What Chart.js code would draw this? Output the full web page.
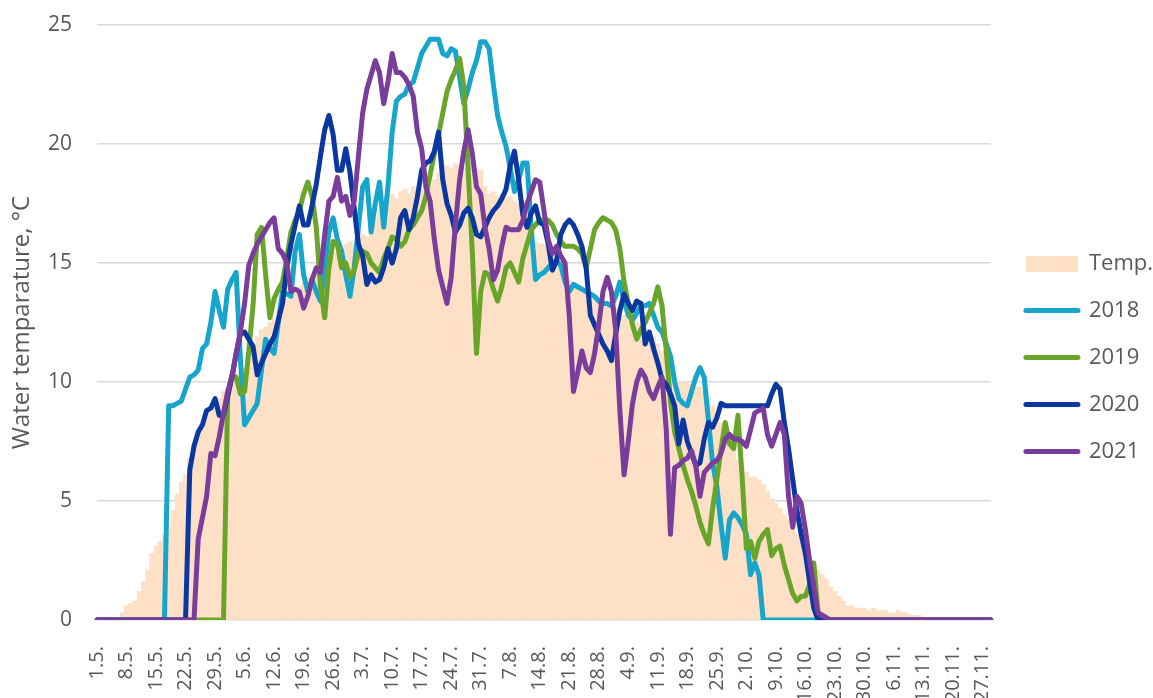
<!DOCTYPE html>
<html>
<head>
<meta charset="utf-8">
<script src="https://cdn.jsdelivr.net/npm/chart.js@4.4.1/dist/chart.umd.min.js"></script>
<style>
  html, body { margin: 0; background: #fff; }
  #wrap { width: 1153px; height: 698px; }
</style>
</head>
<body>
<div id="wrap"><canvas id="chart"></canvas></div>
<script>
// daily values, 1.5. -> 29.11., one row per week
const temp = [
  0, 0, 0, 0, 0, 0, 0.3,
  0.6, 0.7, 0.8, 1.2, 1.6, 2.1, 2.8,
  3.1, 3.3, 3.6, 3.9, 4.6, 5.3, 5.8,
  6.1, 6.8, 7.2, 7.8, 8.2, 8.5, 8.7,
  8.9, 9.3, 9.6, 9.8, 10.0, 10.2, 10.4,
  10.6, 11.0, 11.5, 11.9, 12.2, 12.3, 12.5,
  12.7, 13.0, 13.3, 13.5, 13.7, 13.8, 14.0,
  14.2, 14.4, 14.5, 14.7, 14.8, 15.0, 15.2,
  15.4, 15.5, 15.6, 15.8, 15.9, 15.8, 16.0,
  16.2, 16.1, 16.4, 16.8, 17.2, 17.5, 17.8,
  17.9, 17.7, 18.0, 18.1, 17.9, 18.2, 18.0,
  18.1, 18.3, 18.2, 18.5, 18.8, 19.0, 19.1,
  19.0, 19.2, 19.1, 19.0, 19.2, 19.1, 18.9,
  18.9, 18.2, 17.9, 18.0, 17.8, 17.9, 17.7,
  17.8, 17.6, 17.5, 17.6, 17.2, 16.5, 15.9,
  15.8, 15.8, 15.6, 15.5, 15.3, 15.0, 14.7,
  14.3, 14.1, 14.0, 13.9, 13.7, 13.6, 13.5,
  13.4, 13.3, 13.3, 13.2, 13.1, 13.0, 12.8,
  12.7, 12.6, 12.5, 12.4, 12.3, 12.1, 11.9,
  11.6, 11.3, 11.0, 10.6, 10.2, 10.0, 10.0,
  10.0, 9.9, 9.8, 9.8, 9.6, 9.4, 9.0,
  8.7, 8.3, 7.9, 7.5, 7.1, 6.7, 6.4,
  6.2, 6.0, 6.0, 5.9, 5.7, 5.4, 5.1,
  4.9, 4.7, 4.4, 4.2, 3.9, 3.6, 3.4,
  3.0, 2.6, 2.4, 2.1, 1.9, 1.7, 1.4,
  1.2, 1.0, 0.8, 0.6, 0.6, 0.5, 0.5,
  0.5, 0.4, 0.5, 0.4, 0.4, 0.4, 0.3,
  0.3, 0.4, 0.3, 0.3, 0.2, 0.2, 0.2,
  0.1, 0.1, 0, 0, 0, 0, 0,
  0, 0, 0, 0, 0, 0, 0,
  0, 0, 0
];

const y2018 = [
  0, 0, 0, 0, 0, 0, 0,
  0, 0, 0, 0, 0, 0, 0,
  0, 0, 0, 9.0, 9.0, 9.1, 9.2,
  9.7, 10.2, 10.3, 10.5, 11.4, 11.6, 12.5,
  13.8, 13.0, 12.3, 13.9, 14.3, 14.6, 11.0,
  8.2, 8.5, 8.8, 9.1, 10.5, 11.8, 11.4,
  11.2, 12.5, 13.8, 13.7, 13.6, 15.5, 16.2,
  14.5, 13.8, 14.3, 13.8, 13.4, 14.8, 16.3,
  16.9, 16.0, 15.5, 14.5, 13.6, 14.8, 16.5,
  18.2, 18.5, 16.3, 17.5, 18.4, 16.5, 18.2,
  20.5, 21.8, 22.0, 22.1, 22.5, 22.6, 23.2,
  23.8, 24.1, 24.4, 24.4, 24.4, 23.8, 23.7,
  24.0, 23.9, 22.8, 21.7, 22.3, 23.0, 23.5,
  24.3, 24.3, 24.0, 22.5, 21.2, 20.5, 19.9,
  19.0, 18.0, 18.5, 19.2, 19.2, 16.4, 14.3,
  14.5, 14.6, 14.8, 15.0, 15.1, 14.9, 14.2,
  13.8, 14.1, 14.0, 13.9, 13.8, 13.7, 13.6,
  13.4, 13.3, 13.3, 13.2, 13.6, 14.2, 13.4,
  12.8, 12.6, 12.9, 13.2, 13.2, 13.3, 12.8,
  12.3, 12.1, 11.6, 11.1, 10.0, 9.3, 9.1,
  9.0, 9.6, 10.2, 10.6, 10.2, 8.4, 6.6,
  5.6, 4.0, 2.6, 4.2, 4.5, 4.3, 4.0,
  3.6, 1.9, 2.4, 1.9, 0, 0, 0,
  0, 0, 0, 0, 0, 0, 0,
  0, 0, 0, 0, 0, 0, 0,
  0, 0, 0, 0, 0, 0, 0,
  0, 0, 0, 0, 0, 0, 0,
  0, 0, 0, 0, 0, 0, 0,
  0, 0, 0, 0, 0, 0, 0,
  0, 0, 0, 0, 0, 0, 0,
  0, 0, 0
];

const y2019 = [
  0, 0, 0, 0, 0, 0, 0,
  0, 0, 0, 0, 0, 0, 0,
  0, 0, 0, 0, 0, 0, 0,
  0, 0, 0, 0, 0, 0, 0,
  0, 0, 0, 9.5, 10.3, 10.2, 9.5,
  9.6, 11.3, 13.2, 16.2, 16.5, 14.5, 12.7,
  13.5, 13.9, 14.2, 15.2, 16.3, 16.8, 17.2,
  17.9, 18.4, 17.8, 16.5, 14.0, 12.7, 14.8,
  15.9, 15.8, 14.8, 15.0, 14.4, 14.7, 15.4,
  15.5, 15.4, 15.0, 14.8, 14.6, 15.2, 15.6,
  16.1, 16.0, 15.7, 15.9, 16.4, 16.6, 16.9,
  17.2, 17.8, 18.7, 19.6, 20.4, 21.3, 22.2,
  22.7, 23.1, 23.6, 22.4, 19.0, 15.5, 11.2,
  13.8, 14.6, 14.5, 13.9, 13.4, 14.0, 14.8,
  15.0, 14.6, 14.2, 15.2, 15.8, 16.4, 16.6,
  16.8, 16.8, 16.8, 16.6, 16.2, 15.9, 15.7,
  15.7, 15.7, 15.6, 15.4, 14.8, 15.6, 16.4,
  16.7, 16.9, 16.8, 16.7, 16.4, 15.6, 14.2,
  13.3, 12.4, 11.8, 12.2, 12.5, 12.9, 13.3,
  14.0, 13.2, 11.3, 9.2, 7.9, 7.2, 6.5,
  5.9, 5.4, 4.8, 4.1, 3.6, 3.2, 4.7,
  5.9, 7.2, 8.3, 7.4, 7.2, 8.6, 6.0,
  3.0, 3.3, 2.6, 3.3, 3.6, 3.8, 2.7,
  3.0, 3.1, 2.3, 1.7, 1.1, 0.8, 1.0,
  1.0, 1.5, 2.4, 0.3, 0, 0, 0,
  0, 0, 0, 0, 0, 0, 0,
  0, 0, 0, 0, 0, 0, 0,
  0, 0, 0, 0, 0, 0, 0,
  0, 0, 0, 0, 0, 0, 0,
  0, 0, 0, 0, 0, 0, 0,
  0, 0, 0
];

const y2020 = [
  0, 0, 0, 0, 0, 0, 0,
  0, 0, 0, 0, 0, 0, 0,
  0, 0, 0, 0, 0, 0, 0,
  0, 6.3, 7.3, 7.9, 8.2, 8.8, 8.9,
  9.3, 8.6, 8.6, 9.4, 10.2, 11.2, 12.0,
  12.1, 11.8, 11.5, 10.3, 10.8, 11.2, 11.6,
  11.9, 12.6, 13.3, 14.8, 15.8, 16.6, 17.4,
  16.6, 16.6, 17.4, 18.3, 19.5, 20.6, 21.2,
  20.4, 18.9, 18.9, 19.8, 18.8, 17.3, 15.8,
  15.3, 14.1, 14.5, 14.2, 14.3, 14.8, 15.6,
  15.0, 15.6, 16.9, 17.2, 16.4, 16.9, 17.8,
  18.9, 19.2, 19.3, 19.7, 20.5, 18.5, 17.5,
  17.0, 16.3, 16.6, 17.1, 17.3, 16.9, 16.2,
  16.1, 16.5, 16.9, 17.2, 17.4, 17.7, 18.1,
  19.1, 19.7, 18.5, 17.0, 16.5, 17.1, 17.4,
  16.7, 16.6, 15.8, 14.7, 15.1, 16.2, 16.6,
  16.8, 16.6, 16.2, 15.7, 14.8, 12.8, 12.4,
  12.0, 11.6, 11.3, 10.9, 12.0, 13.0, 13.7,
  13.3, 13.0, 13.4, 13.3, 11.6, 12.1, 11.4,
  10.8, 10.1, 9.9, 9.5, 9.0, 7.4, 8.4,
  7.5, 7.0, 6.5, 6.6, 7.6, 8.3, 8.1,
  8.5, 9.1, 9.0, 9.0, 9.0, 9.0, 9.0,
  9.0, 9.0, 9.0, 9.0, 9.0, 9.0, 9.5,
  9.9, 9.7, 8.3, 7.2, 5.9, 4.6, 3.6,
  2.8, 1.6, 0.5, 0, 0, 0, 0,
  0, 0, 0, 0, 0, 0, 0,
  0, 0, 0, 0, 0, 0, 0,
  0, 0, 0, 0, 0, 0, 0,
  0, 0, 0, 0, 0, 0, 0,
  0, 0, 0, 0, 0, 0, 0,
  0, 0, 0
];

const y2021 = [
  0, 0, 0, 0, 0, 0, 0,
  0, 0, 0, 0, 0, 0, 0,
  0, 0, 0, 0, 0, 0, 0,
  0, 0, 0, 3.4, 4.3, 5.2, 7.0,
  6.9, 7.7, 8.7, 9.6, 10.2, 11.2, 12.1,
  13.3, 14.9, 15.4, 15.8, 16.1, 16.4, 16.7,
  16.9, 15.6, 15.4, 15.0, 13.8, 13.9, 13.8,
  13.1, 13.6, 14.3, 14.8, 14.6, 16.2, 17.6,
  17.8, 18.6, 17.6, 17.8, 17.0, 17.6, 19.5,
  21.3, 22.3, 22.9, 23.5, 23.0, 21.7, 22.6,
  23.8, 23.0, 23.0, 22.8, 22.5, 22.0, 20.5,
  19.8, 18.2, 17.6, 16.0, 14.7, 14.0, 13.3,
  14.4, 16.6, 18.5, 19.7, 20.6, 19.6, 18.2,
  17.9, 16.5, 15.6, 14.3, 14.7, 15.7, 16.5,
  16.4, 16.4, 16.4, 16.8, 17.5, 18.0, 18.5,
  18.4, 17.2, 16.0, 15.4, 15.7, 15.3, 15.0,
  12.8, 9.6, 10.4, 11.3, 10.6, 10.4, 11.2,
  12.4, 13.8, 14.4, 13.8, 12.2, 8.8, 6.1,
  7.5, 9.1, 10.0, 10.5, 10.2, 9.6, 9.3,
  9.8, 10.2, 8.0, 3.6, 6.4, 6.5, 6.7,
  6.8, 7.1, 6.5, 5.2, 6.2, 6.4, 6.6,
  6.7, 7.0, 7.6, 7.8, 7.6, 7.6, 7.5,
  7.3, 8.0, 8.7, 8.8, 8.9, 7.8, 7.3,
  7.8, 8.3, 7.8, 5.2, 3.9, 5.2, 4.9,
  3.8, 2.5, 1.4, 0.3, 0.2, 0.1, 0,
  0, 0, 0, 0, 0, 0, 0,
  0, 0, 0, 0, 0, 0, 0,
  0, 0, 0, 0, 0, 0, 0,
  0, 0, 0, 0, 0, 0, 0,
  0, 0, 0, 0, 0, 0, 0,
  0, 0, 0
];

const yTicks = [0, 5, 10, 15, 20, 25];

// category labels d.m. starting 1.5.
const days = [];
for (let i = 0; i < temp.length; i++) {
  const d = new Date(2021, 4, 1 + i);
  days.push(d.getDate() + '.' + (d.getMonth() + 1) + '.');
}

const textColor = '#595959';
Chart.defaults.font.family = 'Open Sans';
Chart.defaults.color = textColor;

// legend swatch for the Temp. area
const swatch = document.createElement('canvas');
swatch.width = 52;
swatch.height = 16;
const sctx = swatch.getContext('2d');
sctx.fillStyle = '#fde0c5';
sctx.fillRect(0, 0, 52, 16);

function line(label, data, color, order) {
  return {
    type: 'line',
    label: label,
    data: data,
    borderColor: color,
    backgroundColor: color,
    borderWidth: 5,
    pointRadius: 0,
    tension: 0,
    borderJoinStyle: 'round',
    borderCapStyle: 'round',
    fill: false,
    order: order
  };
}

// nudge the legend a bit, like the original
const legendShift = {
  id: 'legendShift',
  afterLayout(chart) {
    chart.legend.left += 10;
    chart.legend.top -= 4;
    chart.legend.bottom -= 4;
  }
};

new Chart(document.getElementById('chart'), {
  data: {
    labels: days,
    datasets: [
      {
        type: 'bar',
        label: 'Temp.',
        data: temp,
        backgroundColor: '#fde0c5',
        borderWidth: 0,
        barPercentage: 1,
        categoryPercentage: 1,
        order: 5
      },
      line('2018', y2018, '#17a5cb', 4),
      line('2019', y2019, '#6aa52b', 3),
      line('2020', y2020, '#0b37a0', 2),
      line('2021', y2021, '#7b3d9c', 1)
    ]
  },
  plugins: [legendShift],
  options: {
    responsive: true,
    maintainAspectRatio: false,
    animation: false,
    layout: { padding: { top: 25, left: 0, right: 0, bottom: 0 } },
    plugins: {
      tooltip: { enabled: false },
      legend: {
        position: 'right',
        labels: {
          usePointStyle: true,
          pointStyleWidth: 52,
          padding: 25,
          color: textColor,
          font: { size: 22 },
          generateLabels: (chart) => chart.data.datasets.map((ds, i) => ({
            text: ds.label,
            fillStyle: ds.backgroundColor,
            strokeStyle: ds.borderColor,
            lineWidth: ds.type === 'bar' ? 0 : 5,
            lineCap: 'round',
            pointStyle: ds.type === 'bar' ? swatch : 'line',
            fontColor: textColor,
            hidden: false,
            datasetIndex: i
          }))
        }
      }
    },
    scales: {
      x: {
        offset: false,
        grid: { display: false },
        border: { display: false },
        afterFit: (scale) => { scale.height = 78; },
        ticks: {
          autoSkip: false,
          minRotation: 90,
          maxRotation: 90,
          padding: 18,
          font: { size: 20 },
          callback: (v, i) => (i % 7 === 0 ? days[i] : '')
        }
      },
      y: {
        min: 0,
        max: 25,
        afterBuildTicks: (axis) => { axis.ticks = yTicks.map(v => ({ value: v })); },
        afterFit: (scale) => {
          scale.width = 97;
          scale.paddingTop = 0;
          scale.paddingBottom = 0;
        },
        grid: { color: '#d9d9d9', lineWidth: 1.5, drawTicks: false },
        border: { display: false },
        ticks: { padding: 25, font: { size: 21 } },
        title: {
          display: true,
          text: 'Water temparature, °C',
          font: { size: 24 },
          padding: { top: 8, bottom: 10 }
        }
      }
    }
  }
});
</script>
</body>
</html>
